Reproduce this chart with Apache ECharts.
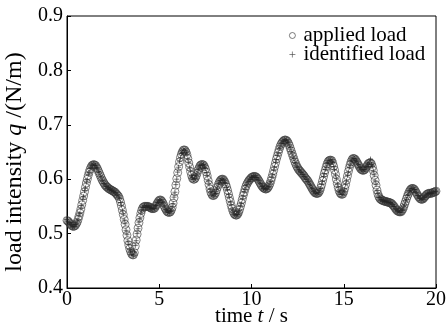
<!DOCTYPE html>
<html>
<head>
<meta charset="utf-8">
<script src="https://cdn.jsdelivr.net/npm/echarts@6/dist/echarts.min.js"></script>
<style>
html,body{margin:0;padding:0;background:#fff;}
#chart{width:448px;height:328px;}
</style>
</head>
<body>
<div id="chart"></div>
<script>
// sampling of the time axis (s)
var tStart = 0, tStep = 0.05;
var xTicks = [0, 5, 10, 15, 20];
var yTicks = [0.4, 0.5, 0.6, 0.7, 0.8, 0.9];
var seriesNames = ['applied load', 'identified load'];

// applied load q (N/m), one row per second (20 samples) + final sample at 20 s
var appliedLoad = [
0.524,0.523,0.521,0.519,0.517,0.515,0.514,0.513,0.514,0.515,0.518,0.521,0.526,0.532,0.538,0.545,0.553,0.561,0.569,0.577,
0.585,0.593,0.600,0.607,0.613,0.618,0.622,0.625,0.626,0.627,0.626,0.625,0.622,0.619,0.615,0.611,0.607,0.603,0.599,0.596,
0.593,0.590,0.588,0.586,0.585,0.583,0.582,0.581,0.580,0.579,0.578,0.577,0.576,0.574,0.572,0.570,0.568,0.564,0.558,0.551,
0.543,0.535,0.526,0.517,0.507,0.497,0.487,0.479,0.472,0.467,0.463,0.461,0.461,0.465,0.477,0.488,0.499,0.510,0.520,0.529,
0.537,0.543,0.547,0.549,0.550,0.550,0.550,0.550,0.550,0.549,0.548,0.547,0.546,0.546,0.546,0.547,0.550,0.553,0.556,0.559,
0.561,0.562,0.561,0.559,0.556,0.552,0.548,0.545,0.542,0.540,0.539,0.539,0.540,0.543,0.548,0.556,0.566,0.577,0.589,0.601,
0.612,0.623,0.632,0.640,0.646,0.650,0.653,0.654,0.653,0.650,0.645,0.638,0.630,0.622,0.614,0.607,0.602,0.600,0.600,0.602,
0.606,0.611,0.616,0.620,0.624,0.626,0.627,0.627,0.626,0.623,0.619,0.613,0.606,0.598,0.590,0.582,0.576,0.572,0.570,0.570,
0.572,0.575,0.580,0.585,0.590,0.594,0.597,0.599,0.600,0.600,0.598,0.595,0.591,0.586,0.580,0.573,0.566,0.559,0.552,0.546,
0.541,0.537,0.535,0.534,0.534,0.536,0.539,0.544,0.550,0.556,0.563,0.570,0.576,0.582,0.587,0.591,0.594,0.597,0.599,0.601,
0.603,0.604,0.605,0.605,0.605,0.604,0.602,0.600,0.597,0.594,0.591,0.588,0.586,0.584,0.583,0.582,0.582,0.583,0.585,0.588,
0.592,0.597,0.603,0.609,0.616,0.623,0.630,0.637,0.643,0.649,0.655,0.660,0.664,0.667,0.669,0.671,0.672,0.672,0.671,0.669,
0.666,0.662,0.657,0.652,0.647,0.642,0.637,0.632,0.628,0.624,0.621,0.618,0.616,0.614,0.612,0.610,0.608,0.606,0.603,0.601,
0.599,0.597,0.594,0.591,0.588,0.585,0.582,0.579,0.577,0.575,0.574,0.574,0.574,0.576,0.579,0.584,0.590,0.597,0.604,0.611,
0.617,0.623,0.628,0.632,0.634,0.635,0.635,0.634,0.630,0.624,0.617,0.609,0.600,0.592,0.585,0.579,0.575,0.573,0.572,0.573,
0.577,0.583,0.590,0.598,0.606,0.614,0.621,0.627,0.632,0.636,0.638,0.638,0.637,0.635,0.632,0.629,0.626,0.623,0.620,0.618,
0.617,0.616,0.617,0.618,0.621,0.624,0.627,0.629,0.630,0.630,0.628,0.623,0.616,0.607,0.598,0.589,0.580,0.573,0.568,0.565,
0.563,0.562,0.561,0.560,0.560,0.559,0.559,0.558,0.558,0.557,0.557,0.556,0.555,0.553,0.551,0.549,0.546,0.544,0.542,0.541,
0.540,0.540,0.540,0.542,0.545,0.549,0.554,0.559,0.564,0.569,0.573,0.577,0.580,0.582,0.583,0.583,0.582,0.580,0.577,0.574,
0.571,0.568,0.566,0.564,0.563,0.563,0.564,0.566,0.568,0.570,0.572,0.573,0.574,0.574,0.574,0.574,0.575,0.576,0.576,0.577,
0.578
];

// identified load q (N/m), same sampling
var identifiedLoad = [
0.526,0.522,0.520,0.520,0.516,0.516,0.512,0.514,0.513,0.517,0.517,0.523,0.525,0.534,0.537,0.547,0.552,0.563,0.568,0.579,
0.584,0.595,0.599,0.609,0.612,0.620,0.621,0.627,0.625,0.628,0.625,0.626,0.621,0.620,0.614,0.612,0.606,0.604,0.598,0.597,
0.592,0.591,0.587,0.587,0.584,0.584,0.581,0.582,0.579,0.580,0.577,0.578,0.575,0.575,0.571,0.571,0.567,0.565,0.557,0.552,
0.542,0.536,0.525,0.518,0.506,0.498,0.486,0.480,0.471,0.468,0.462,0.462,0.460,0.466,0.478,0.487,0.500,0.509,0.521,0.528,
0.538,0.542,0.548,0.548,0.551,0.549,0.551,0.549,0.551,0.548,0.549,0.546,0.547,0.545,0.547,0.546,0.551,0.552,0.557,0.558,
0.562,0.561,0.562,0.558,0.557,0.551,0.549,0.544,0.543,0.539,0.540,0.538,0.541,0.542,0.549,0.555,0.567,0.576,0.590,0.600,
0.613,0.622,0.633,0.639,0.647,0.649,0.654,0.653,0.654,0.649,0.646,0.637,0.631,0.621,0.615,0.606,0.603,0.599,0.601,0.601,
0.607,0.610,0.617,0.619,0.625,0.625,0.628,0.626,0.627,0.622,0.620,0.612,0.607,0.597,0.591,0.581,0.577,0.571,0.571,0.569,
0.573,0.574,0.581,0.584,0.591,0.593,0.598,0.598,0.601,0.599,0.599,0.594,0.592,0.585,0.581,0.572,0.567,0.558,0.553,0.545,
0.542,0.536,0.536,0.533,0.535,0.535,0.540,0.543,0.551,0.555,0.564,0.569,0.577,0.581,0.588,0.590,0.595,0.596,0.600,0.600,
0.604,0.603,0.606,0.604,0.606,0.603,0.603,0.599,0.598,0.593,0.592,0.587,0.587,0.583,0.584,0.581,0.583,0.582,0.586,0.587,
0.593,0.596,0.604,0.608,0.617,0.622,0.631,0.636,0.644,0.648,0.656,0.659,0.665,0.666,0.670,0.670,0.673,0.671,0.672,0.668,
0.667,0.661,0.658,0.651,0.648,0.641,0.638,0.631,0.629,0.623,0.622,0.617,0.617,0.613,0.613,0.609,0.609,0.605,0.604,0.600,
0.600,0.596,0.595,0.590,0.589,0.584,0.583,0.578,0.578,0.574,0.575,0.573,0.575,0.575,0.580,0.583,0.591,0.596,0.605,0.610,
0.618,0.622,0.629,0.631,0.635,0.634,0.636,0.633,0.631,0.623,0.618,0.608,0.601,0.591,0.586,0.578,0.576,0.572,0.573,0.572,
0.578,0.582,0.591,0.597,0.607,0.613,0.622,0.626,0.633,0.635,0.639,0.637,0.638,0.634,0.633,0.628,0.627,0.622,0.621,0.617,
0.618,0.615,0.618,0.617,0.622,0.623,0.628,0.628,0.631,0.637,0.627,0.624,0.615,0.608,0.597,0.590,0.579,0.574,0.567,0.566,
0.562,0.563,0.560,0.561,0.559,0.560,0.558,0.560,0.557,0.558,0.556,0.557,0.554,0.554,0.550,0.550,0.545,0.545,0.541,0.542,
0.539,0.541,0.539,0.543,0.544,0.550,0.553,0.560,0.563,0.570,0.572,0.578,0.579,0.583,0.582,0.584,0.581,0.581,0.576,0.575,
0.570,0.569,0.565,0.565,0.562,0.564,0.563,0.567,0.567,0.571,0.571,0.574,0.573,0.575,0.573,0.575,0.574,0.577,0.575,0.578,
0.577
];

function pairs(arr) {
  return arr.map(function (v, i) { return [+(tStart + i * tStep).toFixed(2), v]; });
}

var FONT = '"Liberation Serif", "DejaVu Serif", serif';
var FS = 21;
var chart = echarts.init(document.getElementById('chart'), null, {renderer: 'canvas'});
var plusPath = 'path://M0,5L10,5M5,0L5,10';

chart.setOption({
  animation: false,
  backgroundColor: '#fff',
  textStyle: {fontFamily: FONT, color: '#000'},
  grid: {left: 67, right: 12, top: 16, bottom: 40, containLabel: false, outerBoundsMode: 'none',
         show: true, borderColor: '#000', borderWidth: 1, backgroundColor: 'transparent'},
  legend: {
    orient: 'vertical',
    left: 284, top: 20,
    itemGap: -2,
    itemWidth: 6, itemHeight: 6,
    textStyle: {fontFamily: FONT, fontSize: FS, color: '#000', padding: [0, 0, 0, 3]},
    data: [
      {name: seriesNames[0], icon: 'circle', itemStyle: {color: 'rgba(0,0,0,0)', borderColor: '#333', borderWidth: 0.8}},
      {name: seriesNames[1], icon: plusPath, itemStyle: {color: 'rgba(0,0,0,0)', borderColor: '#444', borderWidth: 0.8}}
    ]
  },
  xAxis: {
    type: 'value', min: xTicks[0], max: xTicks[xTicks.length - 1], interval: 5,
    name: '{n|time }{i|t}{n| / s}',
    nameLocation: 'middle', nameGap: 18, nameMoveOverlap: false,
    nameTextStyle: {rich: {n: {fontFamily: FONT, fontSize: FS, color: '#000'}, i: {fontFamily: FONT, fontSize: FS, fontStyle: 'italic', color: '#000'}}},
    axisLine: {show: true, onZero: false, lineStyle: {color: '#000', width: 1}},
    axisTick: {show: true, inside: true, length: 4, lineStyle: {color: '#000'}},
    axisLabel: {fontFamily: FONT, fontSize: 20, color: '#000', margin: 2},
    splitLine: {show: false}
  },
  yAxis: {
    type: 'value', min: yTicks[0], max: yTicks[yTicks.length - 1], interval: 0.1,
    name: '{n|load intensity }{i|q}{n| /(N/m)}',
    nameLocation: 'middle', nameGap: 35, nameRotate: 90,
    nameTextStyle: {padding: [0, 20, 0, 0], rich: {n: {fontFamily: FONT, fontSize: 24, color: '#000'}, i: {fontFamily: FONT, fontSize: 24, fontStyle: 'italic', color: '#000'}}},
    axisLine: {show: true, onZero: false, lineStyle: {color: '#000', width: 1}},
    axisTick: {show: true, inside: true, length: 4, lineStyle: {color: '#000'}},
    axisLabel: {fontFamily: FONT, fontSize: 20, color: '#000', margin: 4, formatter: function (v) { return v.toFixed(1); }},
    splitLine: {show: false}
  },
  series: [
    {
      name: seriesNames[0], type: 'scatter', data: pairs(appliedLoad),
      symbol: 'circle', symbolSize: 8,
      itemStyle: {color: 'rgba(0,0,0,0)', borderColor: '#3a3a3a', borderWidth: 0.8},
      z: 2
    },
    {
      name: seriesNames[1], type: 'scatter', data: pairs(identifiedLoad),
      symbol: plusPath, symbolSize: 5,
      itemStyle: {color: 'rgba(0,0,0,0)', borderColor: '#222', borderWidth: 0.8},
      z: 3
    }
  ]
});
</script>
</body>
</html>
